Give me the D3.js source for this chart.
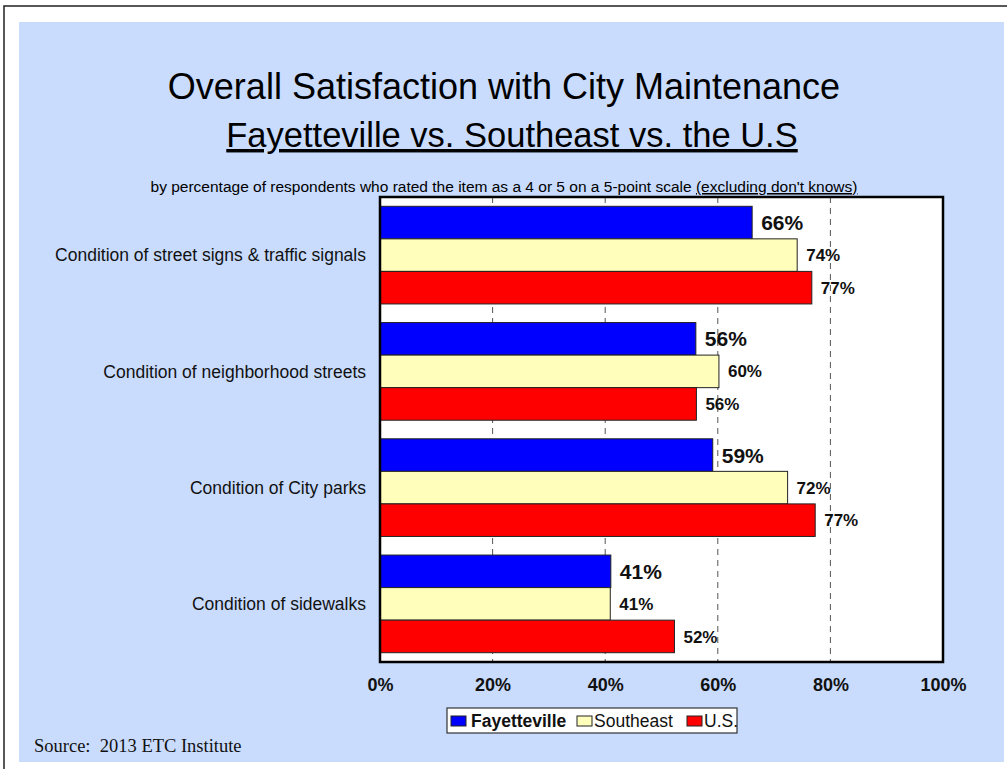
<!DOCTYPE html>
<html><head><meta charset="utf-8">
<script src="https://cdn.jsdelivr.net/npm/d3@7"></script>
<style>body{margin:0;background:#fff;} svg{display:block;font-family:"Liberation Sans",Arial,sans-serif;}</style>
</head><body>
<svg id="c" width="1007" height="769"></svg>
<script>
const categories = ["Condition of street signs & traffic signals","Condition of neighborhood streets","Condition of City parks","Condition of sidewalks"];
const seriesNames = ["Fayetteville","Southeast","U.S."];
const fayetteville = [66.1, 56.1, 59.1, 41.0];
const southeast = [74.1, 60.2, 72.4, 40.9];
const us = [76.7, 56.2, 77.3, 52.3];
const seriesColors = ["#0000ff","#ffffbb","#ff0000"];
const xTicks = [0,20,40,60,80,100];

const svg = d3.select("#c");
// outer frame
svg.append("rect").attr("x",4).attr("y",6).attr("width",1020).attr("height",800).attr("fill","#fff").attr("stroke","#222").attr("stroke-width",1.5);
svg.append("rect").attr("x",19).attr("y",22).attr("width",985).attr("height",740).attr("fill","#c9dcfe");

// titles
svg.append("text").attr("x",504).attr("y",99).attr("text-anchor","middle").attr("font-size",36).attr("fill","#000").text("Overall Satisfaction with City Maintenance");
svg.append("text").attr("x",512).attr("y",147).attr("text-anchor","middle").attr("font-size",34.5).attr("fill","#000").attr("text-decoration","underline").text("Fayetteville vs. Southeast vs. the U.S");
const sub = svg.append("text").attr("x",504).attr("y",192).attr("text-anchor","middle").attr("font-size",15.5).attr("fill","#000");
sub.append("tspan").text("by percentage of respondents who rated the item as a 4 or 5 on a 5-point scale ");
sub.append("tspan").attr("text-decoration","underline").text("(excluding don't knows)");

const L=380, R=943, T=197, B=662;
const x = d3.scaleLinear().domain([0,100]).range([L,R]);
const y = d3.scaleBand().domain(categories).range([T,B]).paddingInner(0.16).paddingOuter(0.08);
const ys = d3.scaleBand().domain(seriesNames).range([0,y.bandwidth()]);

svg.append("rect").attr("x",L).attr("y",T).attr("width",R-L).attr("height",B-T).attr("fill","#fff");
// gridlines
svg.append("g").selectAll("line").data(xTicks.filter(d=>d>0&&d<100)).join("line")
  .attr("x1",d=>x(d)).attr("x2",d=>x(d)).attr("y1",T).attr("y2",B)
  .attr("stroke","#555").attr("stroke-width",1).attr("stroke-dasharray","6,5");

const data = categories.map((c,i)=>({c, vals:[fayetteville[i],southeast[i],us[i]]}));
const g = svg.append("g");
data.forEach(d=>{
  d.vals.forEach((v,j)=>{
    const yy = y(d.c)+ys(seriesNames[j]);
    g.append("rect").attr("x",x(0)).attr("y",yy).attr("width",x(v)-x(0)).attr("height",ys.bandwidth())
      .attr("fill",seriesColors[j]).attr("stroke","#222").attr("stroke-width",1);
    g.append("text").attr("x",x(v)+9).attr("y",yy+ys.bandwidth()/2).attr("dy","0.36em")
      .attr("font-weight","bold").attr("font-size",j===0?21:17).attr("fill","#111")
      .text(Math.round(v)+"%");
  });
});
// plot border
svg.append("rect").attr("x",L).attr("y",T).attr("width",R-L).attr("height",B-T).attr("fill","none").attr("stroke","#000").attr("stroke-width",2.5);

// category labels
svg.append("g").selectAll("text").data(categories).join("text")
  .attr("x",366).attr("y",d=>y(d)+y.bandwidth()/2).attr("dy","0.36em").attr("text-anchor","end")
  .attr("font-size",17.5).attr("fill","#111").text(d=>d);

// x axis labels
const ax = svg.append("g").attr("transform",`translate(0,${B})`)
  .call(d3.axisBottom(x).tickValues(xTicks).tickFormat(d=>d+"%").tickSize(0).tickPadding(16));
ax.select(".domain").remove();
ax.selectAll("text").attr("font-size",18).attr("font-weight","bold").attr("fill","#111").attr("font-family","Liberation Sans, Arial, sans-serif");

// legend
const lg = svg.append("g");
lg.append("rect").attr("x",447).attr("y",708).attr("width",290).attr("height",25).attr("fill","#fff").attr("stroke","#333").attr("stroke-width",1.2);
const legItems = [{n:"Fayetteville",x:451,tx:471,b:true},{n:"Southeast",x:577,tx:594,b:false},{n:"U.S.",x:687,tx:704,b:false}];
legItems.forEach((it,i)=>{
  lg.append("rect").attr("x",it.x).attr("y",716).attr("width",15).attr("height",10).attr("fill",seriesColors[i]).attr("stroke","#222").attr("stroke-width",1);
  lg.append("text").attr("x",it.tx).attr("y",727).attr("font-size",17.5).attr("font-weight",it.b?"bold":"normal").attr("fill","#111").text(it.n);
});

// source
svg.append("text").attr("x",34).attr("y",752).attr("font-family","Liberation Serif, Times New Roman, serif").attr("font-size",18.5)
  .attr("fill","#111").style("white-space","pre").text("Source:  2013 ETC Institute");
</script>
</body></html>
